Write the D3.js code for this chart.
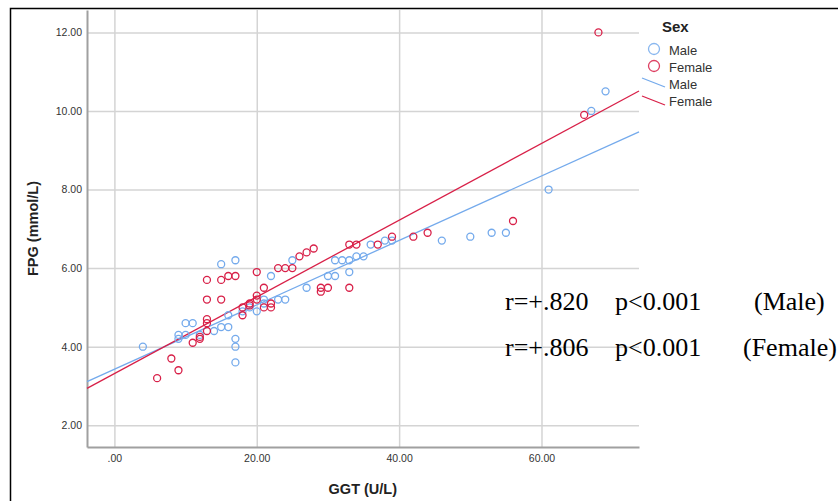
<!DOCTYPE html>
<html>
<head>
<meta charset="utf-8">
<script src="https://cdn.jsdelivr.net/npm/d3@7"></script>
<style>
  body { margin: 0; background: #fff; }
</style>
</head>
<body>
<div id="chart"></div>
<script>
// data
var maleGGT = [4, 9, 9, 10, 11, 10, 12, 14, 15, 16, 16, 15, 17, 17, 17, 17, 18, 19, 20, 21, 21, 22, 23, 24, 25, 27, 30, 31, 31, 32, 33, 33, 34, 35, 36, 38, 39, 46, 50, 53, 55, 61, 67, 69];
var maleFPG = [4.0, 4.3, 4.2, 4.6, 4.6, 4.3, 4.3, 4.4, 4.5, 4.5, 4.8, 6.1, 6.2, 4.2, 4.0, 3.6, 4.9, 5.0, 4.9, 5.2, 5.1, 5.8, 5.2, 5.2, 6.2, 5.5, 5.8, 5.8, 6.2, 6.2, 6.2, 5.9, 6.3, 6.3, 6.6, 6.7, 6.7, 6.7, 6.8, 6.9, 6.9, 8.0, 10.0, 10.5];
var femaleGGT = [6, 8, 9, 11, 12, 12, 13, 13, 13, 13, 13, 15, 15, 16, 17, 18, 18, 19, 19, 20, 20, 20, 21, 21, 22, 22, 23, 24, 25, 26, 27, 28, 29, 29, 30, 33, 33, 34, 37, 39, 42, 44, 56, 66, 68];
var femaleFPG = [3.2, 3.7, 3.4, 4.1, 4.2, 4.25, 4.4, 4.6, 4.7, 5.2, 5.7, 5.2, 5.7, 5.8, 5.8, 4.8, 5.0, 5.1, 5.05, 5.2, 5.3, 5.9, 5.5, 5.0, 5.0, 5.1, 6.0, 6.0, 6.0, 6.3, 6.4, 6.5, 5.5, 5.4, 5.5, 5.5, 6.6, 6.6, 6.6, 6.8, 6.8, 6.9, 7.2, 9.9, 12.0];

// fit lines [intercept, slope]
var maleFit = [3.425, 0.082];
var femaleFit = [3.315, 0.0976];

var xTicks = [0, 20, 40, 60];
var yTicks = [2, 4, 6, 8, 10, 12];
var statLines = [["r=+.820", "p<0.001", "(Male)"], ["r=+.806", "p<0.001", "(Female)"]];

var W = 838, H = 501;
var margin = {top: 10, right: 199, bottom: 54, left: 87},
    width = W - margin.left - margin.right,
    height = H - margin.top - margin.bottom;

var maleColor = "#74aaec", femaleColor = "#d82048";
var sans = "'Liberation Sans', Arial, sans-serif",
    serif = "'Liberation Serif', 'Times New Roman', serif";

var svg = d3.select("#chart").append("svg")
    .attr("width", W)
    .attr("height", H)
    .style("font-family", sans);

// outer frame
svg.append("path")
  .attr("d", "M10.5," + H + "V8.5H" + W)
  .attr("fill", "none")
  .attr("stroke", "#000")
  .attr("stroke-width", 1.5);

var g = svg.append("g")
  .attr("transform", "translate(" + margin.left + "," + margin.top + ")");

var x = d3.scaleLinear().domain([-3.85, 73.7]).range([0, width]);
var y = d3.scaleLinear().domain([1.447, 12.57]).range([height, 0]);

// grid
g.append("g")
  .call(d3.axisLeft(y).tickValues(yTicks).tickSize(-width).tickFormat(""))
  .call(function(s) {
    s.select(".domain").remove();
    s.selectAll("line").attr("stroke", "#d4d4d4").attr("stroke-width", 1.5);
  });
g.append("g")
  .attr("transform", "translate(0," + height + ")")
  .call(d3.axisBottom(x).tickValues(xTicks).tickSize(height).tickFormat(""))
  .call(function(s) {
    s.select(".domain").remove();
    s.selectAll("line").attr("stroke", "#d4d4d4").attr("stroke-width", 1.5)
      .attr("y2", -height);
  });

// axes
var fmt = function(d) { return d === 0 ? ".00" : d3.format(".2f")(d); };
g.append("g")
  .call(d3.axisLeft(y).tickValues(yTicks).tickSize(0).tickPadding(5).tickFormat(fmt))
  .call(function(s) {
    s.select(".domain").attr("stroke", "#a0a0a0").attr("stroke-width", 2);
    s.selectAll("text").style("font-family", sans).attr("font-size", 10.5).attr("fill", "#333");
  });
g.append("g")
  .attr("transform", "translate(0," + height + ")")
  .call(d3.axisBottom(x).tickValues(xTicks).tickSize(0).tickPadding(8).tickFormat(fmt))
  .call(function(s) {
    s.select(".domain").attr("stroke", "#a0a0a0").attr("stroke-width", 2);
    s.selectAll("text").style("font-family", sans).attr("font-size", 10.5).attr("fill", "#333");
  });

// axis titles
svg.append("text")
  .attr("x", margin.left + x(34.9))
  .attr("y", 494)
  .attr("text-anchor", "middle")
  .attr("font-size", 14.5)
  .attr("font-weight", "bold")
  .attr("fill", "#222")
  .text("GGT (U/L)");
svg.append("text")
  .attr("transform", "translate(38," + (margin.top + height / 2) + ") rotate(-90)")
  .attr("text-anchor", "middle")
  .attr("font-size", 14.5)
  .attr("font-weight", "bold")
  .attr("fill", "#222")
  .text("FPG (mmol/L)");

// fit lines
var dom = x.domain();
[[maleFit, maleColor], [femaleFit, femaleColor]].forEach(function(f) {
  g.append("line")
    .attr("x1", x(dom[0])).attr("y1", y(f[0][0] + f[0][1] * dom[0]))
    .attr("x2", x(dom[1])).attr("y2", y(f[0][0] + f[0][1] * dom[1]))
    .attr("stroke", f[1])
    .attr("stroke-width", 1.3);
});

// points
function drawPts(xs, ys, col) {
  g.append("g").selectAll("circle")
    .data(xs.map(function(d, i) { return [d, ys[i]]; }))
    .enter().append("circle")
      .attr("cx", function(d) { return x(d[0]); })
      .attr("cy", function(d) { return y(d[1]); })
      .attr("r", 3.5)
      .attr("fill", "none")
      .attr("stroke", col)
      .attr("stroke-width", 1.3);
}
drawPts(maleGGT, maleFPG, maleColor);
drawPts(femaleGGT, femaleFPG, femaleColor);

// legend
var lg = svg.append("g");
lg.append("text").attr("x", 662).attr("y", 32)
  .attr("font-size", 15).attr("font-weight", "bold").attr("fill", "#222").text("Sex");
[["Male", maleColor], ["Female", femaleColor]].forEach(function(d, i) {
  lg.append("circle").attr("cx", 654).attr("cy", 49 + i * 17).attr("r", 5.5)
    .attr("fill", "none").attr("stroke", d[1]).attr("stroke-width", 1.3).attr("opacity", 0.85);
  lg.append("text").attr("x", 669).attr("y", 55 + i * 17)
    .attr("font-size", 13).attr("fill", "#333").text(d[0]);
});
[["Male", maleColor], ["Female", femaleColor]].forEach(function(d, i) {
  lg.append("line").attr("x1", 642).attr("y1", 78 + i * 18).attr("x2", 665).attr("y2", 87 + i * 18)
    .attr("stroke", d[1]).attr("stroke-width", 1.3);
  lg.append("text").attr("x", 669).attr("y", 89 + i * 17)
    .attr("font-size", 13).attr("fill", "#333").text(d[0]);
});

// stats annotation
statLines.forEach(function(row, i) {
  var yy = 310 + i * 46;
  [505, 615, i === 0 ? 754 : 743].forEach(function(xx, j) {
    svg.append("text").attr("x", xx).attr("y", yy)
      .style("font-family", serif)
      .attr("font-size", 26).attr("fill", "#000").text(row[j]);
  });
});
</script>
</body>
</html>
